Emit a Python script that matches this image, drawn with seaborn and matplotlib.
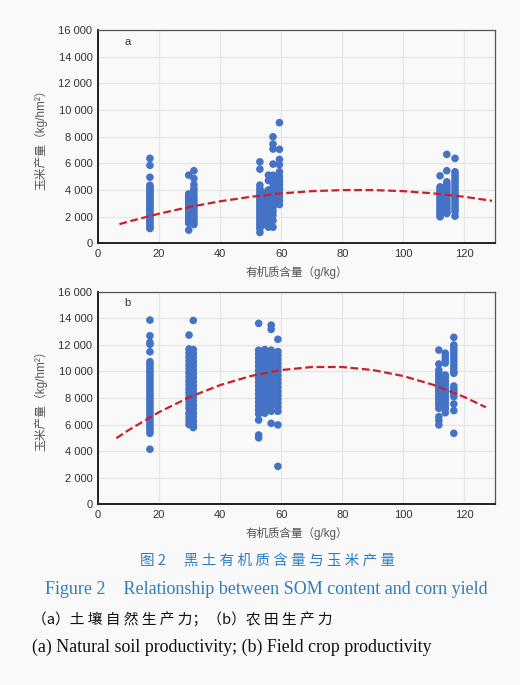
import numpy as np
import pandas as pd
import matplotlib
matplotlib.use("Agg")
import matplotlib.pyplot as plt
import seaborn as sns
from matplotlib.ticker import FuncFormatter

# ---------------- data ----------------
# Panel a: natural soil productivity (SOM g/kg -> corn yield kg/hm2)
A_X = [17.0, 29.7, 31.4, 53.0, 54.5, 55.8, 57.3, 59.4, 112.0, 114.2, 116.9]
A_Y17 = [6370, 5850, 4950, 4350, 4200, 4050, 3900, 3750, 3600, 3450, 3300, 3150, 3000,
         2850, 2700, 2550, 2400, 2250, 2100, 1950, 1800, 1650, 1500, 1350, 1200, 1100]
A_Y29 = [5110, 3700, 3500, 3300, 3100, 2900, 2700, 2500, 2300, 2100, 1900, 1700, 1500, 980]
A_Y31 = [5440, 4860, 4400, 4100, 3900, 3650, 3400, 3200, 3000, 2800, 2600, 2400, 2200,
         2000, 1800, 1600, 1400]
A_Y53 = [6110, 5560, 4360, 4100, 3900, 3700, 3500, 3300, 3100, 2900, 2700, 2500, 2300,
         2100, 1900, 1700, 1500, 1300, 1100, 800]
A_Y54 = [3800, 3500, 3200, 2900, 2600, 2300, 2000, 1700, 1400]
A_Y55 = [5110, 4700, 4000, 3600, 3300, 3000, 2700, 2400, 2100, 1800, 1500, 1200]
A_Y57 = [7990, 7440, 7070, 5940, 5100, 4800, 4500, 4200, 3900, 3600, 3300, 3000, 2700,
         2400, 2100, 1700, 1200]
A_Y59 = [9050, 7050, 6290, 5900, 5360, 5000, 4700, 4400, 4100, 3800, 3500, 3200, 2900]
A_Y112 = [5060, 4230, 4050, 3900, 3750, 3600, 3450, 3300, 3150, 3000, 2850, 2700, 2550,
          2400, 2250, 2100, 1980]
A_Y114 = [6670, 5440, 4610, 4450, 4300, 4150, 4000, 3850, 3700, 3550, 3400, 3250, 3100,
          2950, 2800, 2650, 2500, 2350, 2230]
A_Y117 = [6370, 5360, 5150, 4950, 4750, 4550, 4350, 4150, 3950, 3750, 3550, 3350, 3150,
          2950, 2750, 2550, 2350, 2030]
A_FIT_X = [7, 10, 20, 30, 40, 50, 60, 70, 80, 90, 100, 110, 120, 129]
A_FIT_Y = [1430, 1624, 2215, 2722, 3145, 3483, 3736, 3905, 3989, 3989, 3905, 3736, 3483, 3182]

# Panel b: field crop productivity
B_X = [17.0, 29.8, 31.2, 52.6, 54.6, 56.7, 58.9, 111.6, 113.7, 116.5]
B_Y17 = [13870, 12690, 12190, 12040, 11480, 10730, 10550, 10350, 10150, 9950, 9750, 9550,
         9350, 9150, 8950, 8750, 8550, 8350, 8150, 7950, 7750, 7550, 7350, 7150, 6950,
         6750, 6550, 6350, 6150, 5950, 5750, 5550, 5340, 4140]
B_Y30 = [12740, 11690, 11400, 11100, 10800, 10500, 10200, 9900, 9600, 9300, 9000, 8700,
         8400, 8100, 7800, 7500, 7240, 6870, 6600, 6300, 6000]
B_Y31 = [13840, 11650, 11350, 11050, 10750, 10450, 10150, 9850, 9550, 9250, 8950, 8650,
         8350, 8050, 7750, 7450, 7150, 6850, 6550, 6250, 5950, 5770]
B_Y52 = [13620, 11600, 11300, 11000, 10700, 10400, 10100, 9800, 9500, 9200, 8900, 8600,
         8300, 8000, 7700, 7400, 7100, 6800, 6340, 5210, 5000]
B_Y54 = [11650, 11350, 11050, 10750, 10450, 10150, 9850, 9550, 9250, 8950, 8650, 8350,
         8050, 7750, 7450, 7150, 6850]
B_Y56 = [13490, 13170, 11600, 11300, 11000, 10700, 10400, 10100, 9800, 9500, 9200, 8900,
         8600, 8300, 8000, 7700, 7400, 7000, 6090]
B_Y58 = [12420, 11500, 11200, 10900, 10600, 10300, 10000, 9700, 9400, 9100, 8800, 8500,
         8200, 7900, 7600, 7300, 7000, 5970, 2850]
B_Y112 = [11610, 10560, 10100, 9900, 9700, 9500, 9300, 9100, 8900, 8700, 8500, 8300, 8100,
          7900, 7700, 7500, 7220, 6590, 6300, 5970]
B_Y114 = [11380, 11130, 10880, 10630, 9730, 9500, 9270, 9040, 8810, 8580, 8350, 8120,
          7890, 7660, 7430, 7200, 6890]
B_Y117 = [12570, 11990, 11750, 11500, 11250, 11000, 10750, 10500, 10250, 10000, 9860,
          8900, 8700, 8500, 8300, 8100, 7550, 7050, 5340]
B_FIT_X = [6, 10, 20, 30, 40, 50, 60, 70, 80, 90, 100, 110, 120, 127]
B_FIT_Y = [4970, 5577, 6936, 8068, 8973, 9653, 10105, 10332, 10332, 10105, 9653, 8973,
           8068, 7300]

X_TICKS = [0, 20, 40, 60, 80, 100, 120]
Y_TICKS = [0, 2000, 4000, 6000, 8000, 10000, 12000, 14000, 16000]
X_LABEL = "有机质含量（g/kg）"
Y_LABEL = "玉米产量（kg/hm²）"
PANELS = ["a", "b"]
CAP_CN = "图 2　 黑 土 有 机 质 含 量 与 玉 米 产 量"
CAP_EN = "Figure 2    Relationship between SOM content and corn yield"
SUB_CN = "（a）土 壤 自 然 生 产 力；（b）农 田 生 产 力"
SUB_EN = "(a) Natural soil productivity; (b) Field crop productivity"


def long_df(xs, ys_list):
    rows = []
    for x, ys in zip(xs, ys_list):
        for y in ys:
            rows.append((x, y))
    return pd.DataFrame(rows, columns=["som", "yield"])


df_a = long_df(A_X, [A_Y17, A_Y29, A_Y31, A_Y53, A_Y54, A_Y55, A_Y57, A_Y59,
                     A_Y112, A_Y114, A_Y117])
df_b = long_df(B_X, [B_Y17, B_Y30, B_Y31, B_Y52, B_Y54, B_Y56, B_Y58,
                     B_Y112, B_Y114, B_Y117])
fit_a = pd.DataFrame({"som": A_FIT_X, "yield": A_FIT_Y})
fit_b = pd.DataFrame({"som": B_FIT_X, "yield": B_FIT_Y})

# ---------------- style ----------------
sns.set_theme(style="whitegrid")
BG = "#f9f9f9"
plt.rcParams["font.family"] = ["Liberation Sans", "Noto Sans CJK SC"]
plt.rcParams["axes.unicode_minus"] = False

fig = plt.figure(figsize=(5.2, 6.85), dpi=100, facecolor=BG)
ax_a = fig.add_axes([0.1885, 0.645, 0.7635, 0.311])
ax_b = fig.add_axes([0.1885, 0.264, 0.7635, 0.310])

DOT = "#4472c4"
RED = "#cc1f2b"

fmt = FuncFormatter(lambda v, p: f"{int(v):,}".replace(",", " "))

for ax, df, fit, tag in [(ax_a, df_a, fit_a, PANELS[0]), (ax_b, df_b, fit_b, PANELS[1])]:
    ax.set_facecolor(BG)
    sns.scatterplot(data=df, x="som", y="yield", ax=ax, color=DOT, s=30,
                    edgecolor="none", linewidth=0, zorder=3, legend=False)
    sns.lineplot(data=fit, x="som", y="yield", ax=ax, color=RED, lw=1.6,
                 sort=False, zorder=4, legend=False)
    ax.lines[-1].set_linestyle((0, (3.5, 1.6)))
    ax.set_xlim(0, 130)
    ax.set_ylim(0, 16000)
    ax.set_xticks(X_TICKS)
    ax.set_yticks(Y_TICKS)
    ax.yaxis.set_major_formatter(fmt)
    ax.grid(True, color="#e6e6e6", lw=0.9)
    ax.tick_params(axis="both", length=0, labelsize=8, labelcolor="#333333", pad=4)
    for s in ["left", "bottom"]:
        ax.spines[s].set_color("#222222")
        ax.spines[s].set_linewidth(1.4)
    for s in ["top", "right"]:
        ax.spines[s].set_color("#555555")
        ax.spines[s].set_linewidth(0.9)
    ax.set_xlabel(X_LABEL, fontsize=8.3, color="#555555", labelpad=5)
    ax.set_ylabel(Y_LABEL, fontsize=8.5, color="#555555", labelpad=8)
    ax.text(0.075, 0.945, tag, transform=ax.transAxes, fontsize=8, color="#333333",
            ha="center", va="center")

BLUE = "#2f7dbf"
fig.text(0.515, 0.180, CAP_CN, ha="center", va="center", fontsize=10.5, color=BLUE,
         family=["Noto Sans CJK SC", "DejaVu Sans"])
fig.text(0.512, 0.1387, CAP_EN, ha="center", va="center", fontsize=13, color=BLUE,
         family=["Liberation Serif"])
fig.text(0.0615, 0.0949, SUB_CN, ha="left", va="center", fontsize=10.6, color="#111111",
         family=["Noto Sans CJK SC", "DejaVu Sans"])
fig.text(0.0615, 0.0555, SUB_EN, ha="left", va="center", fontsize=12.9, color="#111111",
         family=["Liberation Serif"])

fig.savefig("out.png", dpi=100, facecolor=BG)
